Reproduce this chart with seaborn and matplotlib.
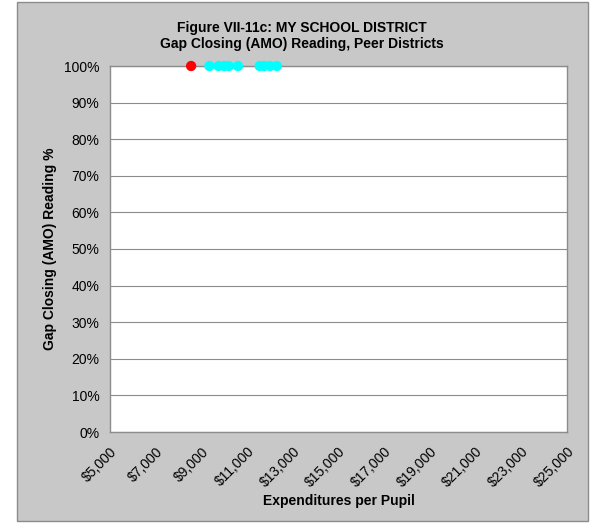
import pandas as pd
import matplotlib.pyplot as plt
import matplotlib.ticker as mticker
from matplotlib.patches import Rectangle
import seaborn as sns

# データ (読み取り値)
district = ['MY SCHOOL DISTRICT', 'Peer', 'Peer', 'Peer', 'Peer', 'Peer',
            'Peer', 'Peer', 'Peer', 'Peer']
expend = [8550, 9350, 9750, 10000, 10200, 10600, 11550, 11750, 12000, 12300]
gap_pct = [100, 100, 100, 100, 100, 100, 100, 100, 100, 100]

x_ticks = list(range(5000, 25001, 2000))
y_ticks = list(range(0, 101, 10))

df = pd.DataFrame({'group': district, 'exp': expend, 'gap': gap_pct})

sns.set_style('white')
plt.rcParams['font.family'] = ['Liberation Sans', 'DejaVu Sans']
plt.rcParams['text.color'] = 'black'
plt.rcParams['axes.labelcolor'] = 'black'
plt.rcParams['xtick.labelcolor'] = 'black'
plt.rcParams['ytick.labelcolor'] = 'black'

fig = plt.figure(figsize=(5.96, 5.23), dpi=100)
fig.patch.set_facecolor('white')
# 外枠 (グレーの背景)
fig.patches.append(Rectangle((17 / 596, 0.004), 571 / 596, 0.992,
                             transform=fig.transFigure, facecolor='#c8c8c8',
                             edgecolor='#8c8c8c', linewidth=1, zorder=-10))

ax = fig.add_axes([110 / 596, 1 - 432 / 523, 457 / 596, 366 / 523])
ax.set_facecolor('white')

sns.scatterplot(data=df, x='exp', y='gap', hue='group',
                palette={'MY SCHOOL DISTRICT': '#ff0000', 'Peer': '#00ffff'},
                s=55, edgecolor='none', legend=False, ax=ax, zorder=5,
                clip_on=False)

ax.set_xlim(5000, 25000)
ax.set_ylim(0, 100)
ax.set_xticks(x_ticks)
ax.set_yticks(y_ticks)
ax.xaxis.set_major_formatter(mticker.FuncFormatter(lambda v, p: f'${v:,.0f}'))
ax.yaxis.set_major_formatter(mticker.FuncFormatter(lambda v, p: f'{v:.0f}%'))
ax.yaxis.grid(True, color='#8c8c8c', linewidth=0.8)
ax.set_axisbelow(True)

for s in ax.spines.values():
    s.set_color('#8c8c8c')
    s.set_linewidth(1)

ax.tick_params(axis='both', direction='out', length=4, color='#8c8c8c',
               labelsize=10, width=1)
ax.tick_params(axis='x', pad=5)
plt.setp(ax.get_xticklabels(), rotation=45, ha='right', rotation_mode='anchor')

ax.set_xlabel('Expenditures per Pupil', fontsize=10, fontweight='bold', labelpad=3)
ax.set_ylabel('Gap Closing (AMO) Reading %', fontsize=10, fontweight='bold', labelpad=5)
# タイトルはグレー枠の中央に配置
fig.text(302 / 596, 1 - 36 / 523,
         'Figure VII-11c: MY SCHOOL DISTRICT\nGap Closing (AMO) Reading, Peer Districts',
         ha='center', va='center', fontsize=10, fontweight='bold', linespacing=1.2)

fig.savefig('out.png', dpi=100, facecolor=fig.get_facecolor())
